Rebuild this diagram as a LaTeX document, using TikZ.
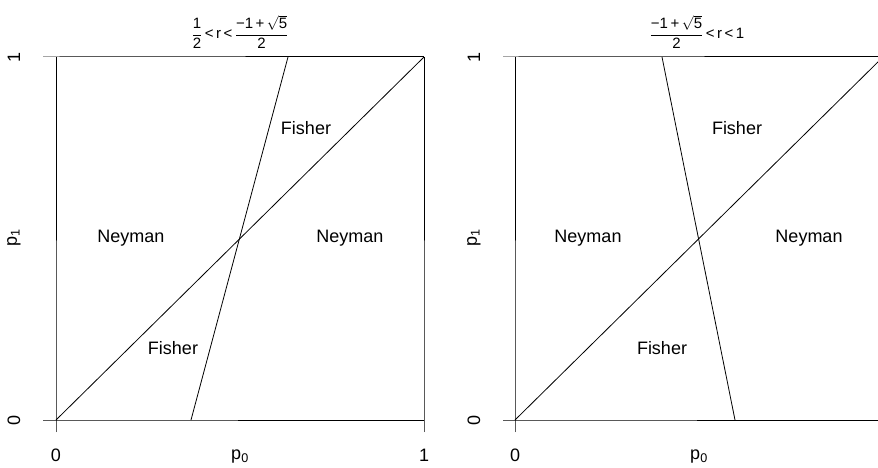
\documentclass[tikz,border=0pt]{standalone}
\usepackage{amsmath}
\usepackage{fontspec}
\setmainfont{Liberation Sans}
\usetikzlibrary{positioning}

\begin{document}
\begin{tikzpicture}[
        x=1pt, y=-1pt,
        axisline/.style={line width=1pt, draw=black},
        cutline/.style={line width=0.8pt, draw=black},
        region/.style={font=\fontsize{18}{21}\selectfont, inner sep=0pt},
        ticklab/.style={font=\fontsize{18}{21}\selectfont, inner sep=0pt},
        title/.style={font=\fontsize{15}{17}\selectfont, inner sep=0pt}
    ]
    \useasboundingbox (0,0) rectangle (878,468);

    % left panel
    \coordinate (lo)  at (56,420);
    \coordinate (lx)  at (424,420);
    \coordinate (ly)  at (56,57);
    \coordinate (lxy) at (424,57);
    \coordinate (lcb) at (191,420);
    \coordinate (lct) at (288,57);

    \draw [axisline] (43,420) -- (lo) -- (lx);
    \draw [axisline] (56,432) -- (lo) -- (ly);
    \draw [axisline] (43,57) -- (ly) -- (lxy);
    \draw [axisline] (424,432) -- (lx) -- (lxy);
    \draw [cutline] (lo) -- (lxy);
    \draw [cutline] (lcb) -- (lct);

    \node (lfisherA) [region] at (306,128) {Fisher};
    \node (lneymanA) [region] at (131,238) {Neyman};
    \node (lneymanB) [region] at (350,238) {Neyman};
    \node (lfisherB) [region] at (173,348) {Fisher};

    \node (lx0) [ticklab] at (56,455) {0};
    \node (lx1) [ticklab] at (424,455) {1};
    \node (lp0) [ticklab] at (240,457) {p\textsubscript{0}};
    \node (ly0) [ticklab, rotate=90] at (14,420) {0};
    \node (ly1) [ticklab, rotate=90] at (14,57) {1};
    \node (lp1) [ticklab, rotate=90] at (14,238) {p\textsubscript{1}};

    \node (ltitle) [title] at (240,32)
        {$\dfrac{\text{1}}{\text{2}}\text{\,<\,r\,<\,}\dfrac{\text{−1\,+\,}\sqrt{\text{5}}}{\text{2}}$};

    % right panel
    \coordinate (ro)  at (515,420);
    \coordinate (rx)  at (883,420);
    \coordinate (ry)  at (515,57);
    \coordinate (rxy) at (883,57);
    \coordinate (rcb) at (735,420);
    \coordinate (rct) at (662,57);

    \draw [axisline] (503,420) -- (ro) -- (rx);
    \draw [axisline] (515,432) -- (ro) -- (ry);
    \draw [axisline] (503,57) -- (ry) -- (rxy);
    \draw [cutline] (ro) -- (rxy);
    \draw [cutline] (rcb) -- (rct);

    \node (rfisherA) [region] at (737,128) {Fisher};
    \node (rneymanA) [region] at (588,238) {Neyman};
    \node (rneymanB) [region] at (809,238) {Neyman};
    \node (rfisherB) [region] at (662,348) {Fisher};

    \node (rx0) [ticklab] at (515,455) {0};
    \node (rp0) [ticklab] at (699,457) {p\textsubscript{0}};
    \node (ry0) [ticklab, rotate=90] at (474,420) {0};
    \node (ry1) [ticklab, rotate=90] at (474,57) {1};
    \node (rp1) [ticklab, rotate=90] at (474,238) {p\textsubscript{1}};

    \node (rtitle) [title] at (697,32)
        {$\dfrac{\text{−1\,+\,}\sqrt{\text{5}}}{\text{2}}\text{\,<\,r\,<\,1}$};

\end{tikzpicture}
\end{document}
